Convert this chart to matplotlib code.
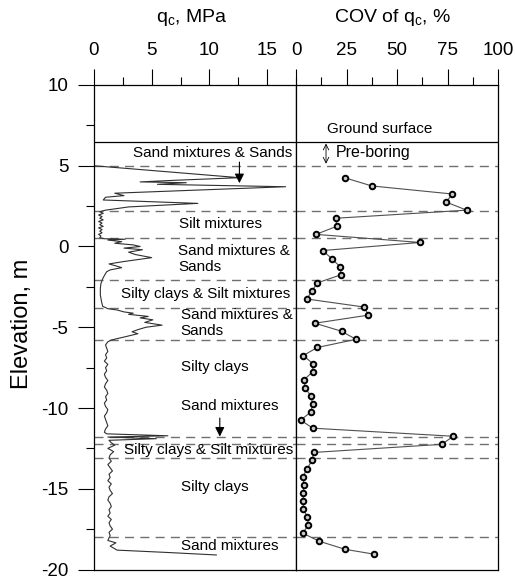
import matplotlib
matplotlib.use("Agg")
import matplotlib.pyplot as plt
from matplotlib.ticker import MultipleLocator

plt.rcParams['font.family'] = ['Liberation Sans', 'DejaVu Sans']
plt.rcParams['mathtext.fontset'] = 'custom'
plt.rcParams['mathtext.rm'] = 'Liberation Sans'

# cone resistance trace, (elevation m, qc MPa)
qc_trace = [
    (5.0, 0.0), (4.26, 12.6), (4.1, 7.0), (4.0, 4.0), (3.95, 8.0), (3.85, 5.5),
    (3.7, 16.6), (3.3, 1.8), (3.15, 2.6), (3.05, 1.0), (2.88, 0.8), (2.67, 9.0),
    (2.45, 3.0), (2.25, 1.0), (2.15, 0.5), (2.05, 0.8), (1.95, 0.4), (1.85, 0.7),
    (1.75, 0.5), (1.65, 0.8), (1.55, 0.4), (1.45, 0.7), (1.35, 0.5), (1.25, 0.8),
    (1.15, 0.4), (1.05, 0.7), (0.95, 0.5), (0.85, 0.7), (0.75, 0.4), (0.65, 0.6),
    (0.55, 0.5), (0.48, 0.9), (0.45, 2.7), (0.4, 1.2), (0.3, 2.4), (0.2, 1.8),
    (0.1, 3.4), (0.0, 4.0), (-0.1, 2.6), (-0.2, 4.2), (-0.35, 3.0), (-0.5, 3.6),
    (-0.69, 5.0), (-0.94, 2.5), (-1.08, 1.3), (-1.2, 1.9), (-1.31, 2.4), (-1.45, 1.4),
    (-1.56, 1.1), (-1.8, 0.9), (-2.0, 0.75), (-2.3, 0.6), (-2.6, 0.55), (-3.0, 0.55),
    (-3.4, 0.65), (-3.7, 0.75), (-3.85, 1.2), (-3.93, 2.0), (-4.05, 2.6), (-4.13, 3.4),
    (-4.2, 3.0), (-4.33, 4.7), (-4.42, 4.0), (-4.54, 5.1), (-4.7, 4.4), (-4.87, 5.9),
    (-5.0, 4.5), (-5.15, 3.8), (-5.28, 3.3), (-5.4, 3.8), (-5.59, 2.7), (-5.79, 1.5),
    (-5.9, 1.2), (-6.1, 1.0), (-6.3, 1.1), (-6.5, 1.2), (-6.7, 1.0), (-6.9, 1.1),
    (-7.1, 0.9), (-7.3, 1.2), (-7.5, 1.0), (-7.7, 1.1), (-7.9, 0.9), (-8.1, 1.0),
    (-8.3, 1.2), (-8.5, 1.0), (-8.7, 0.9), (-8.9, 1.1), (-9.1, 1.2), (-9.3, 1.0),
    (-9.5, 1.1), (-9.7, 0.9), (-9.9, 1.0), (-10.1, 1.2), (-10.3, 1.1), (-10.5, 0.9),
    (-10.7, 1.0), (-10.9, 1.1), (-11.1, 1.2), (-11.3, 1.0), (-11.5, 0.9), (-11.6, 1.1),
    (-11.72, 6.4), (-11.8, 1.2), (-11.9, 5.4), (-12.0, 1.3), (-12.15, 1.5), (-12.3, 1.8),
    (-12.5, 1.2), (-12.7, 1.7), (-12.9, 1.4), (-13.1, 1.3), (-13.3, 1.5), (-13.5, 1.2),
    (-13.7, 1.4), (-13.9, 1.6), (-14.1, 1.3), (-14.3, 1.4), (-14.5, 1.2), (-14.7, 1.5),
    (-14.9, 1.3), (-15.1, 1.4), (-15.3, 1.6), (-15.5, 1.3), (-15.7, 1.2), (-15.9, 1.4),
    (-16.1, 1.5), (-16.3, 1.3), (-16.5, 1.4), (-16.7, 1.2), (-16.9, 1.5), (-17.1, 1.3),
    (-17.3, 1.4), (-17.5, 1.6), (-17.7, 1.3), (-17.9, 1.4), (-18.05, 1.3), (-18.2, 1.2),
    (-18.35, 1.9), (-18.55, 1.4), (-18.8, 2.0), (-18.95, 6.5), (-19.1, 10.6),
]
qc_elev = [p[0] for p in qc_trace]
qc_val = [p[1] for p in qc_trace]

# coefficient of variation of qc, %
cov_elev = [4.25, 3.75, 3.25, 2.75, 2.25, 1.75, 1.25, 0.75, 0.25, -0.25, -0.75, -1.25,
            -1.75, -2.25, -2.75, -3.25, -3.75, -4.25, -4.75, -5.25, -5.75, -6.25, -6.75,
            -7.25, -7.75, -8.25, -8.75, -9.25, -9.75, -10.25, -10.75, -11.25, -11.75,
            -12.25, -12.75, -13.25, -13.75, -14.25, -14.75, -15.25, -15.75, -16.25,
            -16.75, -17.25, -17.75, -18.25, -18.75, -19.05]
cov_val = [24.3, 37.5, 77.4, 74.3, 84.5, 19.8, 20.1, 9.9, 61.4, 13.2, 17.7, 21.8,
           22.3, 10.6, 7.9, 5.3, 33.8, 35.8, 9.4, 22.6, 29.7, 10.6, 3.6,
           8.3, 8.3, 4.0, 4.5, 7.3, 8.3, 7.3, 2.3, 8.3, 77.9,
           72.1, 8.9, 7.8, 5.6, 3.3, 4.0, 3.6, 3.6, 3.6,
           5.6, 6.1, 3.3, 11.5, 24.3, 38.6]

layer_bounds = [5.0, 2.2, 0.5, -2.1, -3.8, -5.8, -11.8, -12.25, -13.1, -18.0]
ground_surface = 6.5
layer_names = ["Sand mixtures & Sands", "Silt mixtures", "Sand mixtures &\nSands",
               "Silty clays & Silt mixtures", "Sand mixtures &\nSands", "Silty clays",
               "Sand mixtures", "Silty clays & Silt mixtures", "Silty clays", "Sand mixtures"]

fig = plt.figure(figsize=(5.15, 5.79), dpi=100)
ax1 = fig.add_axes([0.1825, 0.0164, 0.3922, 0.8368])
ax2 = fig.add_axes([0.5748, 0.0164, 0.3922, 0.8368])

for ax in (ax1, ax2):
    ax.set_ylim(-20, 10)
    ax.xaxis.tick_top()
    ax.tick_params(axis='x', which='major', direction='out', length=11.5, width=0.8,
                   labelsize=13.5, pad=7)
    ax.tick_params(axis='x', which='minor', direction='out', length=5.5, width=0.8)
    for s in ax.spines.values():
        s.set_linewidth(0.9)
    ax.axhline(ground_surface, color='black', lw=0.9)
    for b in layer_bounds:
        ax.axhline(b, color='#707070', lw=1.0, dashes=(6.5, 4.5))

ax1.set_xlim(0, 17.5)
ax1.xaxis.set_major_locator(MultipleLocator(5))
ax1.xaxis.set_minor_locator(MultipleLocator(2.5))
ax1.yaxis.set_major_locator(MultipleLocator(5))
ax1.yaxis.set_minor_locator(MultipleLocator(2.5))
ax1.tick_params(axis='y', which='major', direction='out', length=11.5, width=0.8,
                labelsize=13.5, pad=7)
ax1.tick_params(axis='y', which='minor', direction='out', length=6, width=0.8)
ax1.set_yticklabels([f"{int(v)}" for v in ax1.get_yticks()])
ax1.set_ylim(-20, 10)

ax2.set_xlim(0, 100)
ax2.xaxis.set_major_locator(MultipleLocator(25))
ax2.xaxis.set_minor_locator(MultipleLocator(12.5))
ax2.tick_params(axis='y', left=False, labelleft=False)

ax1.plot(qc_val, qc_elev, color='#303030', lw=0.8)
ax2.plot(cov_val, cov_elev, color='#505050', lw=0.8, marker='o', ms=4,
         mfc='#c8c8c8', mec='black', mew=1.4)

fig.text(0.372, 0.970, r"q$_\mathrm{c}$, MPa", ha='center', va='center', fontsize=14)
fig.text(0.762, 0.970, r"COV of q$_\mathrm{c}$, %", ha='center', va='center', fontsize=14)
fig.text(0.042, 0.44, "Elevation, m", rotation=90, ha='center', va='center', fontsize=17)

fs = 11
ax1.text(17.2, 5.79, layer_names[0], ha='right', va='center', fontsize=fs)
ax1.annotate("", xy=(12.6, 3.75), xytext=(12.6, 5.4),
             arrowprops=dict(arrowstyle='-|>', color='black', lw=0.8, mutation_scale=14))
ax1.text(10.95, 1.39, layer_names[1], ha='center', va='center', fontsize=fs)
ax1.text(7.3, -0.76, layer_names[2], ha='left', va='center', fontsize=fs, linespacing=1.15)
ax1.text(9.7, -2.94, layer_names[3], ha='center', va='center', fontsize=fs)
ax1.text(7.5, -4.73, layer_names[4], ha='left', va='center', fontsize=fs, linespacing=1.15)
ax1.text(10.5, -7.48, layer_names[5], ha='center', va='center', fontsize=fs)
ax1.text(11.8, -9.88, layer_names[6], ha='center', va='center', fontsize=fs)
ax1.annotate("", xy=(10.9, -11.94), xytext=(10.9, -10.45),
             arrowprops=dict(arrowstyle='-|>', color='black', lw=0.8, mutation_scale=14))
ax1.text(9.9, -12.6, layer_names[7], ha='center', va='center', fontsize=fs)
ax1.text(10.5, -14.91, layer_names[8], ha='center', va='center', fontsize=fs)
ax1.text(11.8, -18.54, layer_names[9], ha='center', va='center', fontsize=fs)

ax2.text(41.3, 7.28, "Ground surface", ha='center', va='center', fontsize=fs)
ax2.annotate("", xy=(14.85, 4.95), xytext=(14.85, 6.55),
             arrowprops=dict(arrowstyle='<->', color='black', lw=0.6, mutation_scale=10))
ax2.text(19.8, 5.79, "Pre-boring", ha='left', va='center', fontsize=11.5)

fig.savefig("out.png", dpi=100)
